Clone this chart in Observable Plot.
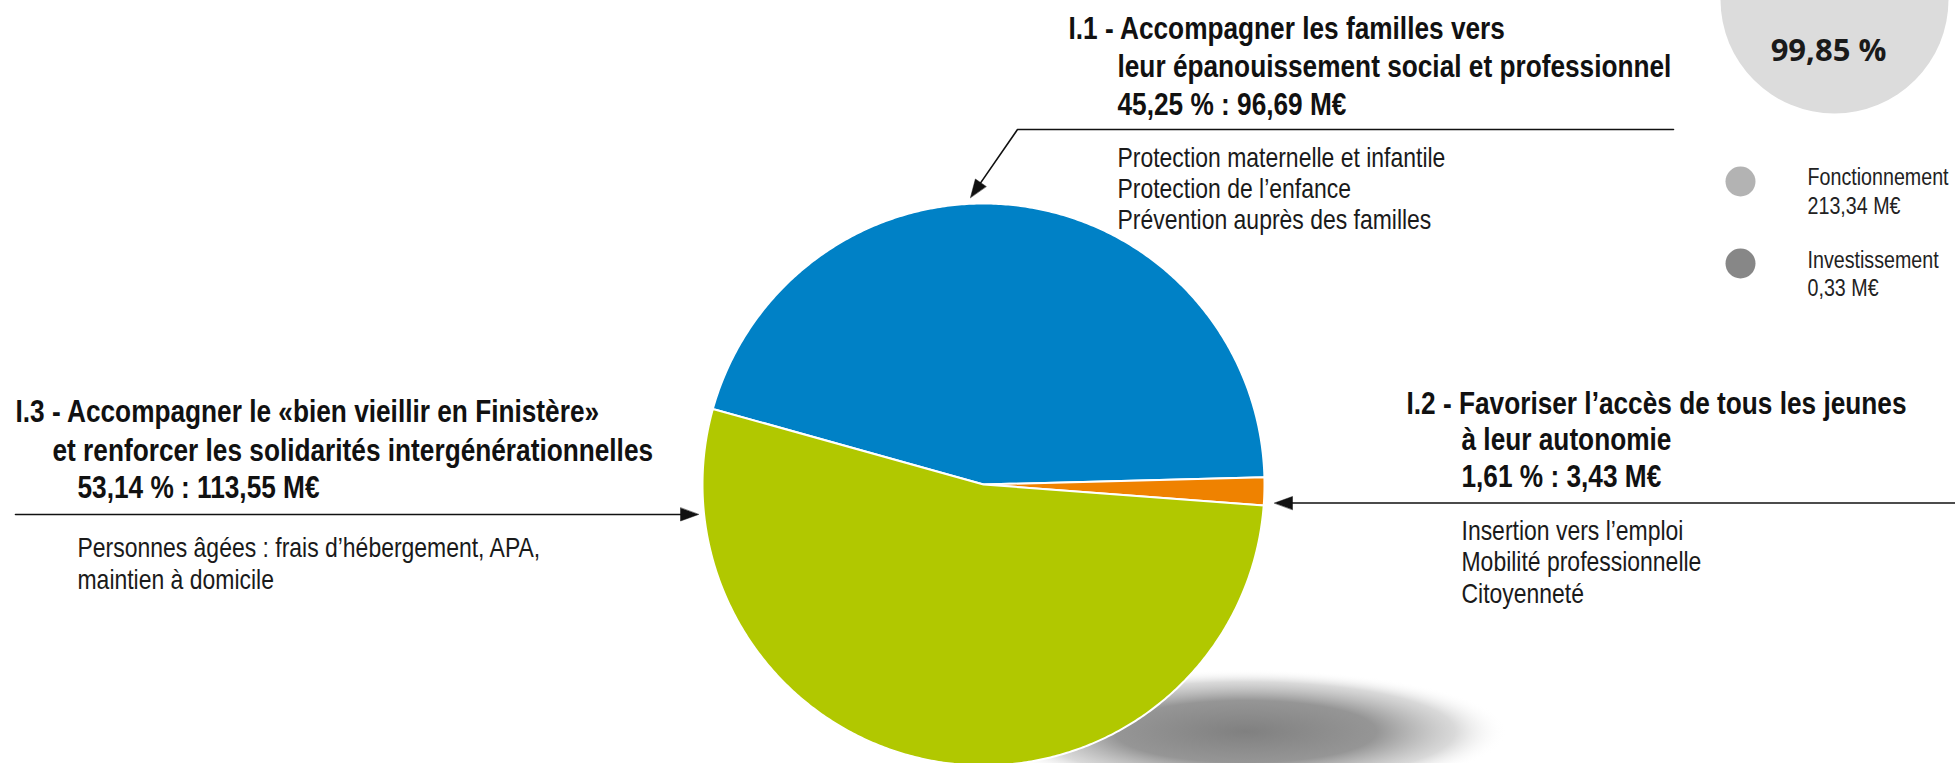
<!DOCTYPE html>
<html lang="fr">
<head>
<meta charset="utf-8">
<script src="https://cdn.jsdelivr.net/npm/d3@7"></script>
<script src="https://cdn.jsdelivr.net/npm/@observablehq/plot@0.6"></script>
<style>
  html, body { margin: 0; padding: 0; background: #fff; overflow: hidden; }
  #chart svg { display: block; }
</style>
</head>
<body>
<div id="chart"></div>
<script>
// ---------- data ----------
const codes = ["I.1", "I.2", "I.3"];
const titleLine1 = [
  "Accompagner les familles vers",
  "Favoriser l’accès de tous les jeunes",
  "Accompagner le «bien vieillir en Finistère»"
];
const titleLine2 = [
  "leur épanouissement social et professionnel",
  "à leur autonomie",
  "et renforcer les solidarités intergénérationnelles"
];
const shares = [45.25, 1.61, 53.14];       // %
const amounts = [96.69, 3.43, 113.55];     // M€
const details = [
  ["Protection maternelle et infantile", "Protection de l’enfance", "Prévention auprès des familles"],
  ["Insertion vers l’emploi", "Mobilité professionnelle", "Citoyenneté"],
  ["Personnes âgées : frais d’hébergement, APA,", "maintien à domicile"]
];
const sliceColors = ["#0081c6", "#ef8200", "#b1c800"];
const budgetTypes = ["Fonctionnement", "Investissement"];
const budgetAmounts = [213.34, 0.33];      // M€
const budgetColors = ["#b3b3b3", "#878787"];
const totalShare = 99.85;                  // %

// ---------- layout ----------
const W = 1955, H = 763;
const PIE = {cx: 983, cy: 484, r: 281, start: -74.4 * Math.PI / 180};
const SHADOW = {cx: 1245, cy: 731, rx: 262, ry: 62};
const BADGE = {cx: 1834, cy: -1, r: 114};
const LEGEND = {x: 1740, tx: 1807, dotY: [181, 263], textY: [[184, 213], [267, 295]]};
const LABELS = {
  "I.1": {x0: 1068, x1: 1117, x2: 1117, xd: 1117, y: [38, 76, 114], yd: [166, 197, 228],
          leader: [[1673, 129], [1017, 129], [970, 197]]},
  "I.2": {x0: 1406, x1: 1461, x2: 1461, xd: 1461, y: [413, 449, 486], yd: [539, 570, 602],
          leader: [[1955, 502.5], [1274, 502.5]]},
  "I.3": {x0: 15, x1: 52, x2: 77, xd: 77, y: [421, 460, 497], yd: [556, 588],
          leader: [[15, 514], [698, 514]]}
};
const COND_FONT = "'Liberation Sans', Arimo, Arial, sans-serif";   // narrowed below
const CONDENSE = 0.82;
const BADGE_FONT = "'Open Sans', 'Noto Sans', sans-serif";

const fr = d3.formatLocale({decimal: ",", thousands: "\u202f", grouping: [3], currency: ["", " €"]});
const f2 = fr.format(".2f");

// ---------- pie geometry ----------
const arcs = d3.pie().sort(null).startAngle(PIE.start).endAngle(PIE.start + 2 * Math.PI)(amounts);
const slicePts = arcs.flatMap((a, i) => {
  const n = Math.max(2, Math.ceil((a.endAngle - a.startAngle) / (Math.PI / 360)));
  const pts = [{code: codes[i], color: sliceColors[i], x: PIE.cx, y: PIE.cy}];
  for (let k = 0; k <= n; k++) {
    const t = a.startAngle + (a.endAngle - a.startAngle) * k / n;
    pts.push({code: codes[i], color: sliceColors[i], x: PIE.cx + PIE.r * Math.sin(t), y: PIE.cy - PIE.r * Math.cos(t)});
  }
  return pts;
});

const shadowPts = d3.range(0, 361, 2).map(d => {
  const t = d * Math.PI / 180;
  return {x: SHADOW.cx + SHADOW.rx * Math.cos(t), y: SHADOW.cy + SHADOW.ry * Math.sin(t)};
});

// ---------- leaders & arrowheads ----------
function head(p, q, len = 18, hw = 6.5) {
  const dx = q[0] - p[0], dy = q[1] - p[1], L = Math.hypot(dx, dy), ux = dx / L, uy = dy / L;
  const bx = q[0] - ux * len, by = q[1] - uy * len;
  return [[q[0], q[1]], [bx - uy * hw, by + ux * hw], [bx + uy * hw, by - ux * hw]];
}
const leaderPts = codes.flatMap(c => {
  const L = LABELS[c].leader;
  const pts = L.map(p => ({code: c, x: p[0], y: p[1]}));
  const p = L[L.length - 2], q = L[L.length - 1];
  const dx = q[0] - p[0], dy = q[1] - p[1], len = Math.hypot(dx, dy);
  pts[pts.length - 1] = {code: c, x: q[0] - dx / len * 12, y: q[1] - dy / len * 12};
  return pts;
});
const headPts = codes.flatMap(c => {
  const L = LABELS[c].leader;
  return head(L[L.length - 2], L[L.length - 1]).map(p => ({code: c, x: p[0], y: p[1]}));
});

// ---------- text rows ----------
const titleRows = codes.flatMap((c, i) => {
  const L = LABELS[c];
  return [
    {x: L.x0, y: L.y[0], text: `${c} - ${titleLine1[i]}`},
    {x: L.x1, y: L.y[1], text: titleLine2[i]},
    {x: L.x2, y: L.y[2], text: `${f2(shares[i])} % : ${f2(amounts[i])} M€`}
  ];
});
const detailRows = codes.flatMap((c, i) =>
  details[i].map((t, k) => ({x: LABELS[c].xd, y: LABELS[c].yd[k], text: t})));
const legendDots = budgetTypes.map((t, i) => ({x: LEGEND.x, y: LEGEND.dotY[i], color: budgetColors[i]}));
const legendRows = budgetTypes.flatMap((t, i) => [
  {x: LEGEND.tx, y: LEGEND.textY[i][0], text: t},
  {x: LEGEND.tx, y: LEGEND.textY[i][1], text: `${f2(budgetAmounts[i])} M€`}
]);

// ---------- plot ----------
const chart = Plot.plot({
  width: W, height: H,
  margin: 0,
  x: {domain: [0, W], range: [0, W], axis: null},
  y: {domain: [0, H], range: [0, H], axis: null},
  color: {type: "identity"},
  style: {background: "white", overflow: "hidden"},
  marks: [
    Plot.line(shadowPts, {x: "x", y: "y", curve: "linear-closed", fill: "url(#pieShadow)", stroke: "none"}),
    Plot.line(slicePts, {x: "x", y: "y", z: "code", fill: d => d.color, stroke: "white",
                         strokeWidth: 2, strokeLinejoin: "round", curve: "linear-closed"}),
    Plot.dot([BADGE], {x: "cx", y: "cy", r: BADGE.r, fill: "#dcdcdc", stroke: "none"}),
    Plot.text([totalShare], {x: BADGE.cx - 6, y: 60, text: d => `${f2(d)} %`, textAnchor: "middle",
                              lineAnchor: "bottom", fontFamily: BADGE_FONT, fontWeight: 700, fontSize: 31, fill: "#1a1a1a"}),
    Plot.dot(legendDots, {x: "x", y: "y", r: 15, fill: "color", stroke: "none"}),
    Plot.text(legendRows, {x: "x", y: "y", text: "text", textAnchor: "start", lineAnchor: "bottom",
                           fontFamily: COND_FONT, fontSize: 24, fill: "#222"}),
    Plot.line(leaderPts, {x: "x", y: "y", z: "code", stroke: "#111", strokeWidth: 1.6}),
    Plot.line(headPts, {x: "x", y: "y", z: "code", curve: "linear-closed", fill: "#111", stroke: "#111", strokeWidth: 0.5}),
    Plot.text(titleRows, {x: "x", y: "y", text: "text", textAnchor: "start", lineAnchor: "bottom",
                          fontFamily: COND_FONT, fontWeight: 700, fontSize: 32, fill: "#111"}),
    Plot.text(detailRows, {x: "x", y: "y", text: "text", textAnchor: "start", lineAnchor: "bottom",
                           fontFamily: COND_FONT, fontSize: 28, fill: "#1a1a1a"})
  ]
});

// radial gradient for the soft shadow under the pie
const defs = d3.select(chart).insert("defs", ":first-child");
const grad = defs.append("radialGradient").attr("id", "pieShadow")
  .attr("cx", "0.5").attr("cy", "0.5").attr("r", "0.5");
grad.append("stop").attr("offset", "0%").attr("stop-color", "#808080").attr("stop-opacity", 1);
grad.append("stop").attr("offset", "50%").attr("stop-color", "#909090").attr("stop-opacity", 0.95);
grad.append("stop").attr("offset", "80%").attr("stop-color", "#c0c0c0").attr("stop-opacity", 0.6);
grad.append("stop").attr("offset", "100%").attr("stop-color", "#ffffff").attr("stop-opacity", 0);

document.getElementById("chart").append(chart);

// narrow the Liberation Sans texts horizontally (like a "Narrow" cut of the face)
d3.select(chart).selectAll("g").filter(function () {
  return (this.getAttribute("font-family") || "").includes("Liberation Sans");
}).selectAll("text").each(function () {
  const t = this.getAttribute("transform");
  if (t) {
    this.setAttribute("transform", `${t} scale(${CONDENSE},1)`);
  } else {
    const x = +this.getAttribute("x") || 0, y = +this.getAttribute("y") || 0;
    this.removeAttribute("x"); this.removeAttribute("y");
    this.setAttribute("transform", `translate(${x},${y}) scale(${CONDENSE},1)`);
  }
});
</script>
</body>
</html>
